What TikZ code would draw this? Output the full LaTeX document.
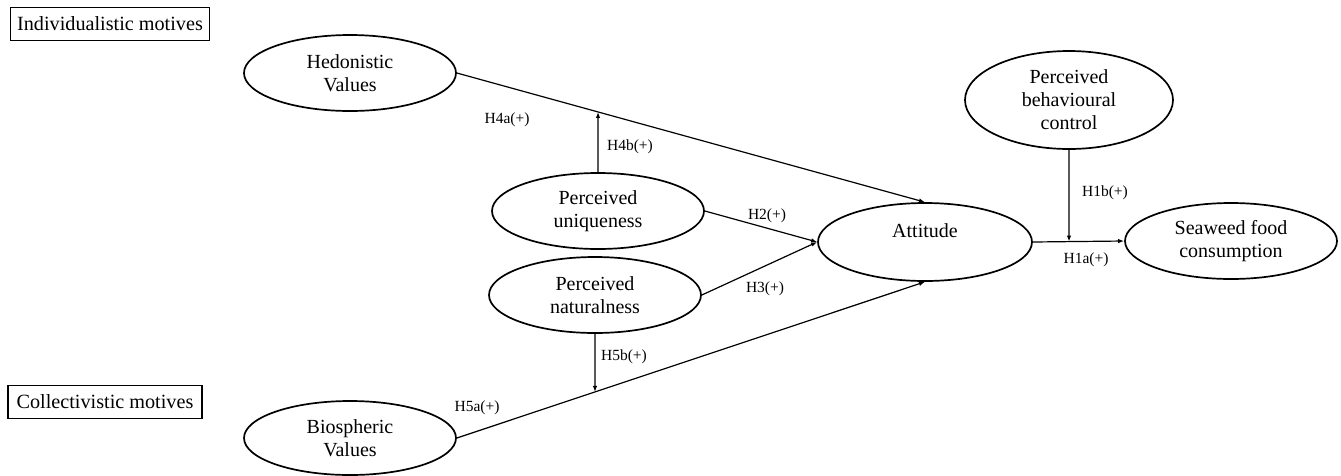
\documentclass[tikz,border=0pt]{standalone}
\usepackage{fontspec}
\setmainfont{Liberation Serif}
\usetikzlibrary{shapes.geometric,arrows.meta,intersections}
\begin{document}
\begin{tikzpicture}[x=1pt,y=-1pt,
  construct/.style={ellipse, draw, line width=1.7pt, inner sep=0pt, align=center,
    minimum width=212pt, minimum height=76pt, font=\fontsize{20}{23}\selectfont},
  motive/.style={draw, line width=1.5pt, minimum height=33pt, inner sep=0pt,
    font=\fontsize{20.2}{23}\selectfont},
  link/.style={line width=1.2pt, -{Latex[length=6pt,width=4.5pt]}},
  hyp/.style={font=\fontsize{15.5}{18}\selectfont, inner sep=0pt}]
\useasboundingbox (0,0) rectangle (1341,475);
% motive boxes
\node[motive, minimum width=199pt] (ind) at (110,24) {Individualistic motives};
\node[motive, minimum width=194pt] (col) at (105,402) {Collectivistic motives};
% constructs
\node[construct] (hed) at (350,73) {Hedonistic\\Values};
\node[construct] (uni) at (598,211) {Perceived\\uniqueness};
\node[construct] (nat) at (595,295) {Perceived\\naturalness};
\node[construct, minimum height=74pt] (bio) at (350,438) {Biospheric\\Values};
\node[construct, minimum width=214pt, minimum height=78pt] (att) at (925,242) {Attitude\\\mbox{}};
\node[construct, minimum width=208pt, minimum height=98pt] (pbc) at (1069,100) {Perceived\\behavioural\\control};
\node[construct] (sea) at (1231,241) {Seaweed food\\consumption};
% main paths
\draw[link, name path=hedatt] (hed.east) -- (att.north);
\draw[link] (uni.east) -- (att.west);
\draw[link] (nat.east) -- (att.west);
\draw[link, name path=bioatt] (bio.east) -- (att.south);
\draw[link, name path=h1a] (att.east) -- (sea.west);
% moderations
\path[name path=v4] (uni.north) -- ++(0,-150);
\path[name intersections={of=hedatt and v4, by=m4}];
\draw[link] (uni.north) -- (m4);
\path[name path=v5] (nat.south) -- ++(0,150);
\path[name intersections={of=bioatt and v5, by=m5}];
\draw[link] (nat.south) -- (m5);
\path[name path=v1] (pbc.south) -- ++(0,200);
\path[name intersections={of=h1a and v1, by=m1}];
\draw[link] (pbc.south) -- (m1);
% hypothesis labels
\node[hyp] (l4a) at (507,120) {H4a(+)};
\node[hyp] (l4b) at (630,147) {H4b(+)};
\node[hyp] (l2) at (767,216) {H2(+)};
\node[hyp] (l3) at (765,289) {H3(+)};
\node[hyp] (l5b) at (624,357) {H5b(+)};
\node[hyp] (l5a) at (477,408) {H5a(+)};
\node[hyp] (l1b) at (1105,193) {H1b(+)};
\node[hyp] (l1a) at (1086,260) {H1a(+)};
\end{tikzpicture}
\end{document}
